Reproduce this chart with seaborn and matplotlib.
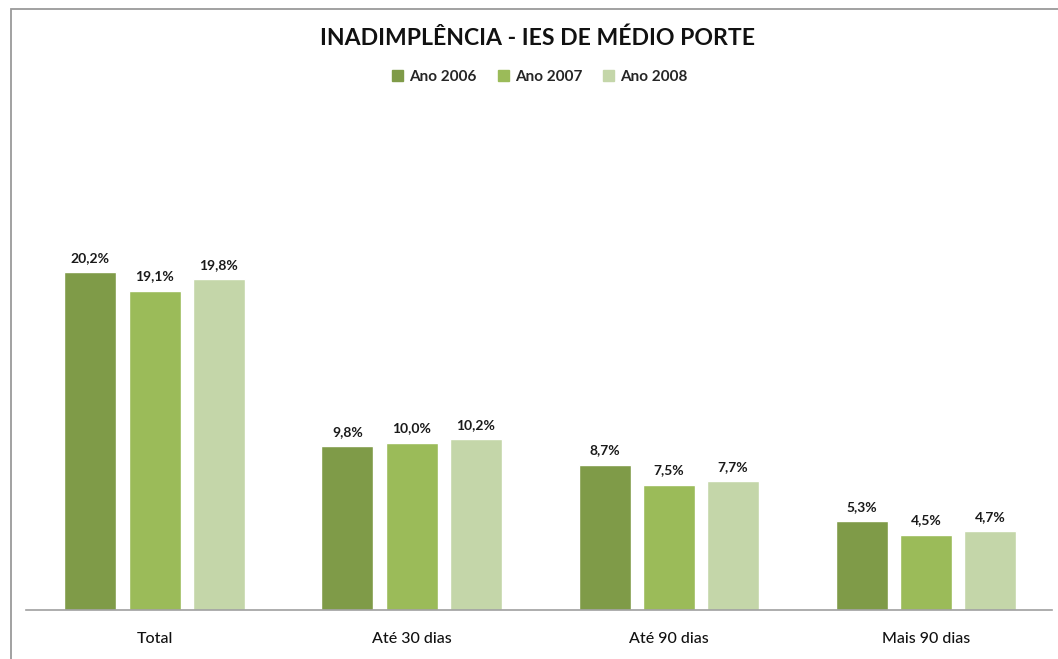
import matplotlib
matplotlib.use("Agg")
import matplotlib.pyplot as plt
import seaborn as sns
import pandas as pd
from matplotlib.patches import Rectangle

categories = ["Total", "Até 30 dias", "Até 90 dias", "Mais 90 dias"]
series = ["Ano 2006", "Ano 2007", "Ano 2008"]
ano_2006 = [20.2, 9.8, 8.7, 5.3]
ano_2007 = [19.1, 10.0, 7.5, 4.5]
ano_2008 = [19.8, 10.2, 7.7, 4.7]
colors = ["#7F9B48", "#9BBB59", "#C4D6A9"]

rows = []
for s, vals in zip(series, [ano_2006, ano_2007, ano_2008]):
    for c, v in zip(categories, vals):
        rows.append({"cat": c, "serie": s, "val": v})
df = pd.DataFrame(rows)

sns.set_theme(style="white")
plt.rcParams["font.family"] = ["Lato", "DejaVu Sans"]

W, H = 1058, 659
fig = plt.figure(figsize=(W / 100, H / 100), dpi=100)
ax = fig.add_axes([26 / W, (H - 610) / H, (1052 - 26) / W, (610 - 100) / H])

sns.barplot(data=df, x="cat", y="val", hue="serie", palette=colors,
            order=categories, hue_order=series, width=0.75, gap=0.19,
            saturation=1, ax=ax, legend=False)

for cont in ax.containers:
    labels = [f"{v:.1f}%".replace(".", ",") for v in cont.datavalues]
    ax.bar_label(cont, labels=labels, padding=6, fontsize=10, fontweight="bold",
                 color="#1a1a1a")

ax.set_xlim(-0.5, 3.49)
ax.set_ylim(0, 30.5)
ax.set_xlabel("")
ax.set_ylabel("")
ax.set_yticks([])
ax.tick_params(axis="x", length=0, pad=16, labelsize=11.5, colors="#111111")
for lab in ax.get_xticklabels():
    lab.set_fontweight("medium")
for sp in ["top", "right", "left"]:
    ax.spines[sp].set_visible(False)
ax.spines["bottom"].set_color("#A0A0A0")
ax.spines["bottom"].set_linewidth(1.2)

fig.text(538 / W, 1 - 38 / H, "INADIMPLÊNCIA - IES DE MÉDIO PORTE", ha="center",
         va="center", fontsize=16.6, fontweight="bold", color="#111111")

handles = [Rectangle((0, 0), 1, 1, color=c) for c in colors]
fig.legend(handles, series, loc="center", bbox_to_anchor=(540 / W, 1 - 77 / H),
           ncol=3, frameon=False, prop={"weight": "bold", "size": 11},
           handlelength=0.7, handleheight=0.7, handletextpad=0.4, columnspacing=1.4)

fig.patches.append(Rectangle((11 / W, -0.1), 1.2, (H - 9) / H + 0.1,
                             transform=fig.transFigure, fill=False,
                             edgecolor="#9A9A9A", linewidth=1.3, zorder=0))

fig.savefig("out.png", dpi=100)
